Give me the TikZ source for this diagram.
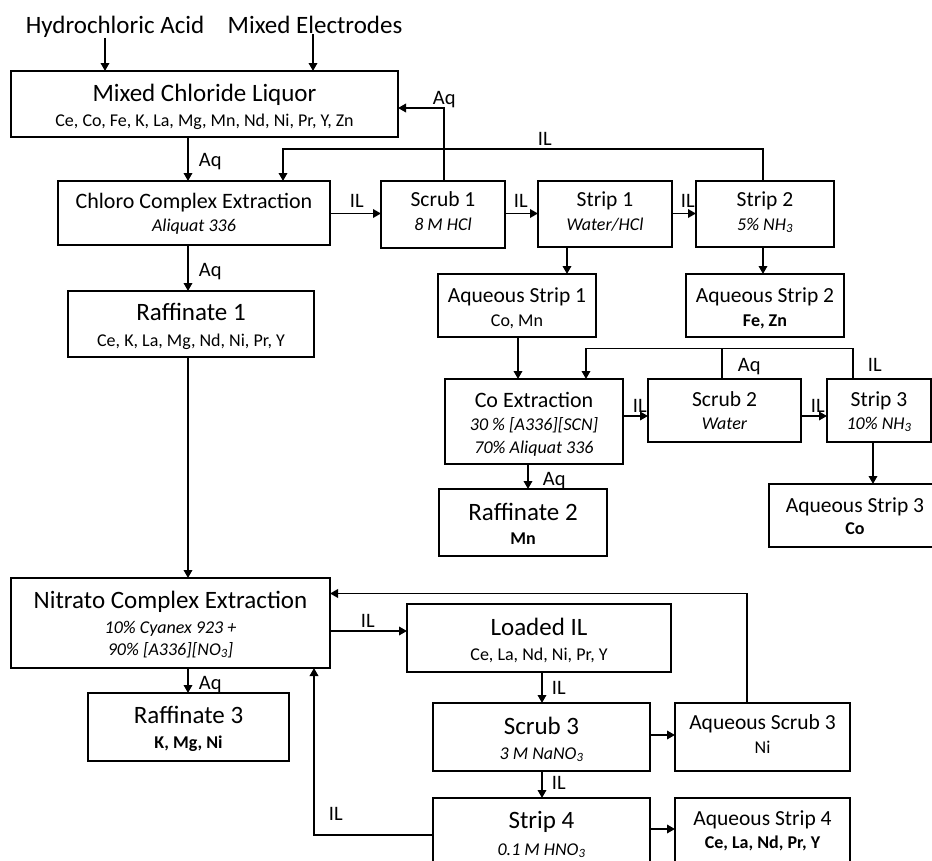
\documentclass[tikz,border=0pt]{standalone}
\usepackage{fontspec}
\setmainfont{Carlito}
\usetikzlibrary{arrows.meta}
\begin{document}
\begin{tikzpicture}[x=1pt,y=-1pt,line width=1.8pt,
  box/.style={draw,rectangle,inner sep=0pt,outer sep=0pt},
  arr/.style={-{Triangle[length=8pt,width=8.5pt]}},
  txt/.style={inner sep=0pt,anchor=base},
  lab/.style={inner sep=0pt,anchor=base west,font=\fontsize{20.5}{24}\selectfont},
  tbig/.style={txt,font=\fontsize{25}{30}\selectfont},
  tmid/.style={txt,font=\fontsize{21.5}{26}\selectfont},
  tsub/.style={txt,font=\fontsize{18}{22}\selectfont},
  tita/.style={txt,font=\fontsize{18}{22}\selectfont\itshape},
  tbold/.style={txt,font=\fontsize{18}{22}\selectfont\bfseries}]
\useasboundingbox (0,0) rectangle (932,860);
\clip (0,0) rectangle (932,860);

% ---------- boxes ----------
\node[box,minimum width=387pt,minimum height=66pt] (mcl) at (204.5,104) {};
\node[box,minimum width=272pt,minimum height=64pt] (chl) at (194,213) {};
\node[box,minimum width=246pt,minimum height=66pt] (raf1) at (191,324) {};
\node[box,minimum width=124pt,minimum height=67pt] (scr1) at (443,214.5) {};
\node[box,minimum width=134pt,minimum height=66pt] (str1) at (605,214) {};
\node[box,minimum width=138pt,minimum height=66pt] (str2) at (765,214) {};
\node[box,minimum width=158pt,minimum height=63pt] (aqs1) at (517,305.5) {};
\node[box,minimum width=158pt,minimum height=63pt] (aqs2) at (765,305.5) {};
\node[box,minimum width=178pt,minimum height=85pt] (coex) at (534,421.5) {};
\node[box,minimum width=153pt,minimum height=63pt] (scr2) at (724.5,410.5) {};
\node[box,minimum width=104pt,minimum height=63pt] (str3) at (879,410.5) {};
\node[box,minimum width=168pt,minimum height=67pt] (raf2) at (523,522.5) {};
\node[box,minimum width=172pt,minimum height=63pt] (aqs3) at (855,515.5) {};
\node[box,minimum width=319pt,minimum height=90pt] (nit) at (170.5,623) {};
\node[box,minimum width=264pt,minimum height=68pt] (loil) at (539,638) {};
\node[box,minimum width=201pt,minimum height=68pt] (raf3) at (188.5,727) {};
\node[box,minimum width=217pt,minimum height=68pt] (scr3) at (541.5,737) {};
\node[box,minimum width=175pt,minimum height=68pt] (aqsc3) at (762.5,737) {};
\node[box,minimum width=217pt,minimum height=68pt] (str4) at (541.5,832) {};
\node[box,minimum width=175pt,minimum height=68pt] (aqst4) at (762.5,832) {};

% ---------- texts ----------
\node[tbig] (hcl) at (115,33) {Hydrochloric Acid};
\node[tbig] (mel) at (315,33) {Mixed Electrodes};

\node[tbig] (mclT) at (204.5,101.7) {Mixed Chloride Liquor};
\node[tsub] (mclS) at (204.5,126.7) {Ce, Co, Fe, K, La, Mg, Mn, Nd, Ni, Pr, Y, Zn};
\node[txt,font=\fontsize{22}{26}\selectfont] (chlT) at (194,208.3) {Chloro Complex Extraction};
\node[tita] (chlS) at (194,231.7) {Aliquat 336};
\node[tbig] (raf1T) at (191,320.7) {Raffinate 1};
\node[tsub] (raf1S) at (191,346) {Ce, K, La, Mg, Nd, Ni, Pr, Y};
\node[tmid] (scr1T) at (443,206.7) {Scrub 1};
\node[tita] (scr1S) at (443,230) {8 M HCl};
\node[tmid] (str1T) at (605,206.7) {Strip 1};
\node[tita] (str1S) at (605,230) {Water/HCl};
\node[tmid] (str2T) at (765,206.7) {Strip 2};
\node[tita] (str2S) at (765,230) {5\% NH\textsubscript{3}};
\node[tmid] (aqs1T) at (517,302.7) {Aqueous Strip 1};
\node[tsub] (aqs1S) at (517,326) {Co, Mn};
\node[tmid] (aqs2T) at (765,302.7) {Aqueous Strip 2};
\node[tbold] (aqs2S) at (765,326) {Fe, Zn};
\node[txt,font=\fontsize{22}{26}\selectfont] (coexT) at (534,407.3) {Co Extraction};
\node[tita] (coexS) at (534,430) {30 \% [A336][SCN]};
\node[tita] (coexR) at (534,453.3) {70\% Aliquat 336};
\node[tmid] (scr2T) at (724.5,406) {Scrub 2};
\node[tita] (scr2S) at (724.5,429.3) {Water};
\node[tmid] (str3T) at (879,406) {Strip 3};
\node[tita] (str3S) at (879,429.3) {10\% NH\textsubscript{3}};
\node[tbig] (raf2T) at (523,520) {Raffinate 2};
\node[tbold] (raf2S) at (523,544) {Mn};
\node[tmid] (aqs3T) at (855,512.3) {Aqueous Strip 3};
\node[tbold] (aqs3S) at (855,534) {Co};
\node[tbig] (nitT) at (170.5,608.3) {Nitrato Complex Extraction};
\node[tita] (nitS) at (170.5,633.3) {10\% Cyanex 923 +};
\node[tita] (nitR) at (170.5,655) {90\% [A336][NO\textsubscript{3}]};
\node[tbig] (raf3T) at (188.5,723.3) {Raffinate 3};
\node[tbold] (raf3S) at (188.5,748.3) {K, Mg, Ni};
\node[tbig] (loilT) at (539,635) {Loaded IL};
\node[tsub] (loilS) at (539,660.7) {Ce, La, Nd, Ni, Pr, Y};
\node[tbig] (scr3T) at (541.5,734) {Scrub 3};
\node[tita] (scr3S) at (541.5,759.3) {3 M NaNO\textsubscript{3}};
\node[tmid] (aqsc3T) at (762.5,729.3) {Aqueous Scrub 3};
\node[tsub] (aqsc3S) at (762.5,753.3) {Ni};
\node[tbig] (str4T) at (541.5,828.3) {Strip 4};
\node[tita] (str4S) at (541.5,855) {0.1 M HNO\textsubscript{3}};
\node[tmid] (aqst4T) at (762.5,825) {Aqueous Strip 4};
\node[tbold] (aqst4S) at (762.5,848.3) {Ce, La, Nd, Pr, Y};

% ---------- reference coordinates ----------
\coordinate (xh) at (105,0);
\coordinate (xe) at (313,0);
\coordinate (xa) at (188,0);
\coordinate (xq) at (444,0);
\coordinate (yq) at (0,108);
\coordinate (xil) at (283,0);
\coordinate (yil) at (0,149);
\coordinate (xs2) at (763,0);
\coordinate (xs1) at (567,0);
\coordinate (yr) at (0,213.5);
\coordinate (xc1) at (518,0);
\coordinate (xc2) at (586,0);
\coordinate (x22) at (722,0);
\coordinate (x3) at (853,0);
\coordinate (yf) at (0,348.5);
\coordinate (yr2) at (0,416);
\coordinate (xr2) at (528,0);
\coordinate (x3d) at (873,0);
\coordinate (yn) at (0,631);
\coordinate (x4) at (747,0);
\coordinate (y4) at (0,593.5);
\coordinate (xl) at (542,0);
\coordinate (ys3) at (0,735);
\coordinate (ys4) at (0,829);
\coordinate (y5) at (0,835);
\coordinate (x5) at (314,0);

% ---------- connectors ----------
\draw[arr] (hcl.south -| xh) -- (mcl.north -| xh);
\draw[arr] (mel.south -| xe) -- (mcl.north -| xe);
\draw[arr] (mcl.south -| xa) -- (chl.north -| xa);
\node[lab] (l1) at (198,166.7) {Aq};
\draw[arr] (chl.south -| xa) -- (raf1.north -| xa);
\node[lab] (l2) at (198,276) {Aq};
\draw[arr] (chl.east |- yr) -- (scr1.west |- yr);
\node[lab] (l3) at (349,207.3) {IL};
\draw[arr] (scr1.north -| xq) |- (mcl.east |- yq);
\node[lab] (l4) at (432,104) {Aq};
\draw[arr] (scr1.east |- yr) -- (str1.west |- yr);
\node[lab] (l5) at (513,207.3) {IL};
\draw[arr] (str1.east |- yr) -- (str2.west |- yr);
\node[lab] (l6) at (680,207.3) {IL};
\draw[arr] (str2.north -| xs2) |- (yil -| xil) -- (chl.north -| xil);
\node[lab] (l7) at (537,145) {IL};
\draw[arr] (str1.south -| xs1) -- (aqs1.north -| xs1);
\draw[arr] (str2.south -| xs2) -- (aqs2.north -| xs2);
\draw[arr] (aqs1.south -| xc1) -- (coex.north -| xc1);
\draw[arr] (str3.north -| x3) |- (yf -| xc2) -- (coex.north -| xc2);
\draw (scr2.north -| x22) -- (yf -| x22);
\node[lab] (l8) at (737,371.7) {Aq};
\node[lab] (l9) at (867,371.7) {IL};
\draw[arr] (coex.east |- yr2) -- (scr2.west |- yr2);
\node[lab] (l10) at (632,412) {IL};
\draw[arr] (scr2.east |- yr2) -- (str3.west |- yr2);
\node[lab] (l11) at (810,412) {IL};
\draw[arr] (coex.south -| xr2) -- (raf2.north -| xr2);
\node[lab] (l12) at (542,485.7) {Aq};
\draw[arr] (str3.south -| x3d) -- (aqs3.north -| x3d);
\draw[arr] (raf1.south -| xa) -- (nit.north -| xa);
\draw[arr] (nit.east |- yn) -- (loil.west |- yn);
\node[lab] (l13) at (360,627.3) {IL};
\draw[arr] (aqsc3.north -| x4) |- (nit.east |- y4);
\draw[arr] (nit.south -| xa) -- (raf3.north -| xa);
\node[lab] (l14) at (198,689.3) {Aq};
\draw[arr] (loil.south -| xl) -- (scr3.north -| xl);
\node[lab] (l15) at (551,694) {IL};
\draw[arr] (scr3.east |- ys3) -- (aqsc3.west |- ys3);
\draw[arr] (scr3.south -| xl) -- (str4.north -| xl);
\node[lab] (l16) at (551,789) {IL};
\draw[arr] (str4.east |- ys4) -- (aqst4.west |- ys4);
\draw[arr] (str4.west |- y5) -| (nit.south -| x5);
\node[lab] (l17) at (328,820.7) {IL};
\end{tikzpicture}
\end{document}
